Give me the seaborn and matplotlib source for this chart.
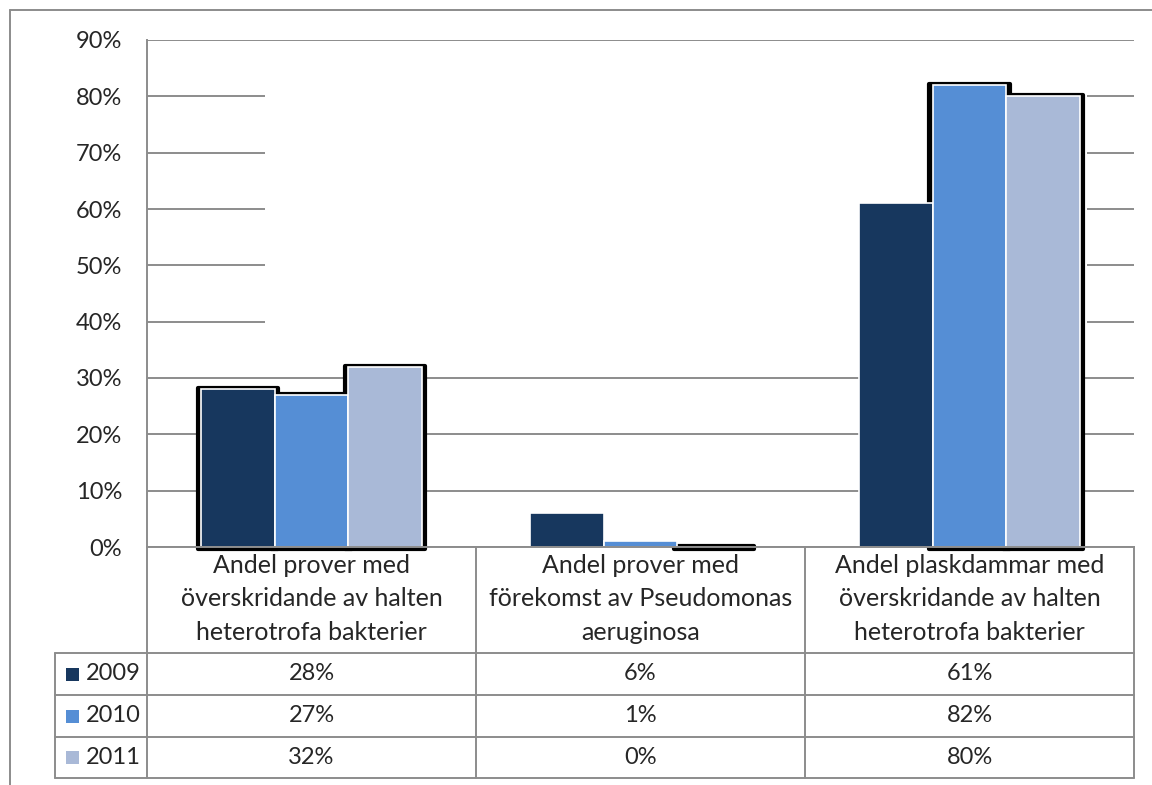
import numpy as np
import pandas as pd
import matplotlib.pyplot as plt
import seaborn as sns
from matplotlib.patches import Rectangle
from matplotlib.lines import Line2D

categories = [
    "Andel prover med\növerskridande av halten\nheterotrofa bakterier",
    "Andel prover med\nförekomst av Pseudomonas\naeruginosa",
    "Andel plaskdammar med\növerskridande av halten\nheterotrofa bakterier",
]
years = ["2009", "2010", "2011"]
v2009 = [28, 6, 61]
v2010 = [27, 1, 82]
v2011 = [32, 0, 80]
colors = ["#17375E", "#558ED5", "#A9B9D7"]
yticks = [0, 10, 20, 30, 40, 50, 60, 70, 80, 90]
# which bars got the dark drop shadow in the original rendering
shadow_2009 = [True, False, False]
shadow_2010 = [True, False, True]
shadow_2011 = [True, True, True]

series = {"2009": v2009, "2010": v2010, "2011": v2011}
shadows = {"2009": shadow_2009, "2010": shadow_2010, "2011": shadow_2011}
df = pd.DataFrame(
    [(c, y, v) for y, vals in series.items() for c, v in zip(categories, vals)],
    columns=["cat", "year", "value"],
)

sns.set_style("white")
plt.rcParams["font.family"] = ["Lato", "DejaVu Sans"]
FS = 17
GRID = "#8c8c8c"

fig = plt.figure(figsize=(11.52, 7.85), dpi=100)
ax = fig.add_axes([147 / 1152, 1 - 547 / 785, 987 / 1152, 507 / 785])

sns.barplot(data=df, x="cat", y="value", hue="year", hue_order=years,
            palette=colors, saturation=1, width=0.67, edgecolor="white",
            linewidth=1.2, legend=False, ax=ax, zorder=3)

# patches come out series by series, categories in order
flags = [f for y in years for f in shadows[y]]
for p, has_shadow in zip(list(ax.patches), flags):
    if not has_shadow:
        continue
    x, w, h = p.get_x(), p.get_width(), p.get_height()
    sh = Rectangle((x - 0.01, -0.4), w + 0.02, h + 0.6, facecolor="black",
                   edgecolor="black", linewidth=3, joinstyle="round",
                   zorder=2, clip_on=False)
    ax.add_patch(sh)

# white patch that hides part of the gridlines in the original
ax.add_patch(Rectangle((0.1196, 0.345), 0.8325, 0.61, transform=ax.transAxes,
                       facecolor="white", edgecolor="none", zorder=1))

ax.set_xlim(-0.5, 2.5)
ax.set_ylim(0, 90)
ax.set_yticks(yticks)
ax.set_yticklabels([f"{t}%" for t in yticks], fontsize=FS)
ax.tick_params(axis="y", length=0, pad=18)
ax.set_xticks([])
ax.set_xlabel("")
ax.set_ylabel("")
ax.set_axisbelow(True)
ax.yaxis.grid(True, color=GRID, linewidth=1.4, zorder=0)
for s in ["top", "right"]:
    ax.spines[s].set_visible(False)
for s in ["left", "bottom"]:
    ax.spines[s].set_color(GRID)
    ax.spines[s].set_linewidth(1.4)
    ax.spines[s].set_zorder(4)

# data table under the axis (axes-fraction coordinates)
def axh(px):
    return -(px - 547) / 507

leg_x = (55 - 147) / 987
row_edges = [axh(653), axh(695), axh(737), axh(778)]
col_edges = [0, 1 / 3, 2 / 3, 1]
tkw = dict(transform=ax.transAxes, clip_on=False, color=GRID, linewidth=1.4)

for cx in col_edges:
    ax.add_line(Line2D([cx, cx], [0, row_edges[-1]], **tkw))
ax.add_line(Line2D([leg_x, leg_x], [row_edges[0], row_edges[-1]], **tkw))
for ry in row_edges:
    ax.add_line(Line2D([leg_x, 1], [ry, ry], **tkw))

for i, cat in enumerate(categories):
    ax.text((i + 0.5) / 3, axh(599), cat, transform=ax.transAxes,
            ha="center", va="center", fontsize=18, linespacing=1.57)

for r, year in enumerate(years):
    yc = (row_edges[r] + row_edges[r + 1]) / 2
    ax.add_patch(Rectangle((leg_x + 11 / 987, yc - 6.5 / 507), 13 / 987, 13 / 507,
                           transform=ax.transAxes, clip_on=False,
                           facecolor=colors[r], edgecolor="none"))
    ax.text(leg_x + 31 / 987, yc, year, transform=ax.transAxes,
            ha="left", va="center", fontsize=FS)
    for i, v in enumerate(series[year]):
        ax.text((i + 0.5) / 3, yc, f"{v}%", transform=ax.transAxes,
                ha="center", va="center", fontsize=FS)

# outer chart frame (only left and top edges are visible in the original)
fig.add_artist(Line2D([10 / 1152, 10 / 1152], [0, 1 - 10 / 785], color=GRID,
                      linewidth=1.4, transform=fig.transFigure))
fig.add_artist(Line2D([10 / 1152, 1], [1 - 10 / 785, 1 - 10 / 785], color=GRID,
                      linewidth=1.4, transform=fig.transFigure))

fig.savefig("out.png", dpi=100)
